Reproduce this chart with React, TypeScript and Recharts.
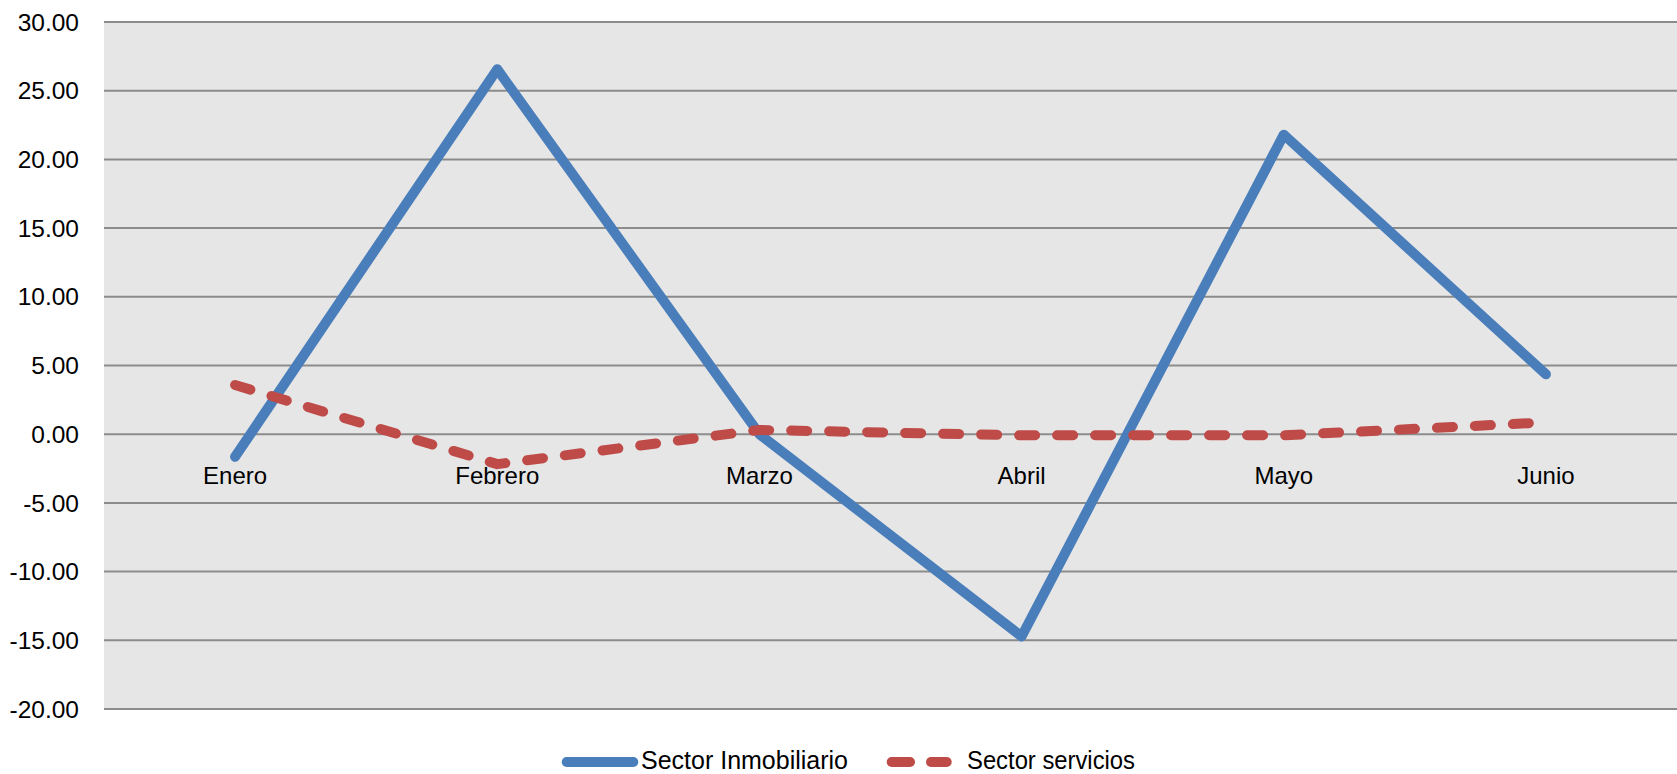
import React from 'react';
import { LineChart, Line, XAxis, YAxis, CartesianGrid, Legend, ReferenceDot } from 'recharts';

const months = ['Enero', 'Febrero', 'Marzo', 'Abril', 'Mayo', 'Junio'];
const inmobiliario = [-1.64, 26.56, 0.0, -14.72, 21.8, 4.36];
const servicios = [3.58, -2.18, 0.31, -0.08, -0.08, 0.86];
const yTicks = [-20, -15, -10, -5, 0, 5, 10, 15, 20, 25, 30];
const seriesNames = ['Sector Inmobiliario', 'Sector servicios'];

const BLUE = '#4A7EBB';
const RED = '#BE4B48';

const data = months.map((m, i) => ({ month: m, inm: inmobiliario[i], ser: servicios[i] }));

const font = '"Liberation Sans", Arial, sans-serif';

const renderLegend = () => (
  <div style={{ height: 30, paddingLeft: 556 }}>
    <svg width={600} height={30} style={{ display: 'block' }}>
      <line x1={10.7} y1={18} x2={77.3} y2={18} stroke={BLUE} strokeWidth={10} strokeLinecap="round" />
      <text x={85} y={24.5} fontFamily={font} fontSize={25.5} fill="#000" textLength={207} lengthAdjust="spacingAndGlyphs">
        {seriesNames[0]}
      </text>
      <line x1={335.7} y1={18} x2={354} y2={18} stroke={RED} strokeWidth={10} strokeLinecap="round" />
      <line x1={375} y1={18} x2={390.7} y2={18} stroke={RED} strokeWidth={10} strokeLinecap="round" />
      <text x={411} y={24.5} fontFamily={font} fontSize={25.5} fill="#000" textLength={168} lengthAdjust="spacingAndGlyphs">
        {seriesNames[1]}
      </text>
    </svg>
  </div>
);

export default function App() {
  return (
    <div style={{ position: 'absolute', left: 0, top: 0, background: '#fff' }}>
      <LineChart width={1677} height={774} data={data} margin={{ top: 22, right: 0, bottom: 35, left: 0 }}>
        <CartesianGrid vertical={false} fill="#E6E6E6" stroke="#8C8C8C" strokeWidth={2} />
        <XAxis dataKey="month" scale="band" hide />
        <YAxis
          domain={[-20, 30]}
          ticks={yTicks}
          width={104}
          axisLine={false}
          tickLine={false}
          tickSize={0}
          tickMargin={25}
          interval={0}
          tickFormatter={(v: number) => v.toFixed(2)}
          tick={{ fill: '#000', fontSize: 24.5, fontFamily: font }}
        />
        {months.map((m) => (
          <ReferenceDot
            key={m}
            x={m}
            y={0}
            r={0}
            fill="none"
            stroke="none"
            label={{ value: m, position: 'bottom', offset: 33, fill: '#000', fontSize: 24, fontFamily: font }}
          />
        ))}
        <Line dataKey="inm" stroke={BLUE} strokeWidth={10} dot={false} strokeLinejoin="round" strokeLinecap="round" isAnimationActive={false} />
        <Line dataKey="ser" stroke={RED} strokeWidth={10} dot={false} strokeDasharray="16 22" strokeLinecap="round" strokeLinejoin="round" isAnimationActive={false} />
        <Legend verticalAlign="bottom" content={renderLegend} wrapperStyle={{ bottom: 0, left: 0, width: 1677 }} />
      </LineChart>
    </div>
  );
}
